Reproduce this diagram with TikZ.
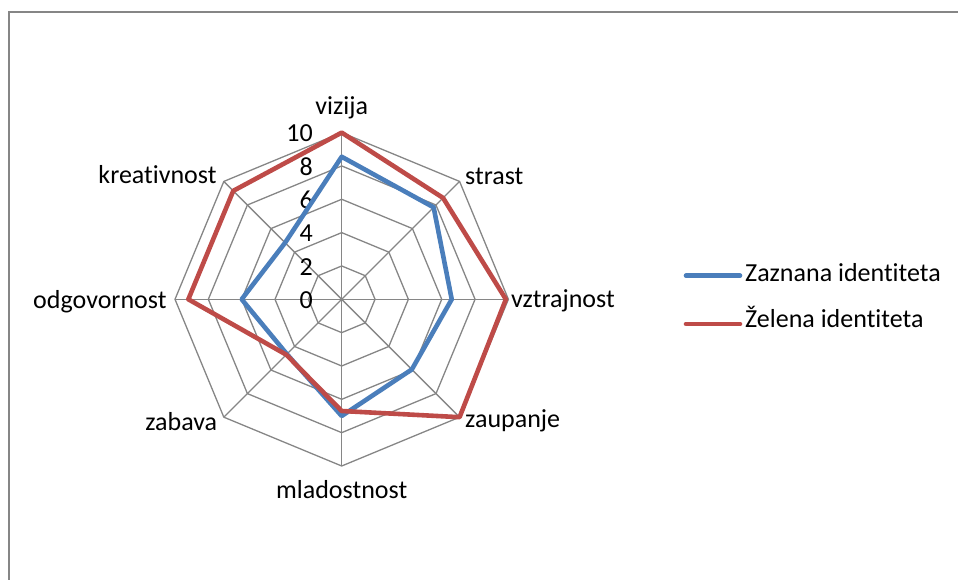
\documentclass[tikz,border=0pt]{standalone}
\usepackage{fontspec}
\setmainfont{Carlito}[Ligatures=NoCommon]
\definecolor{gridgray}{HTML}{868686}
\definecolor{seriesblue}{HTML}{4A7EBB}
\definecolor{seriesred}{HTML}{BE4B48}
\begin{document}
\begin{tikzpicture}[x=1pt,y=1pt,
  gridline/.style={draw=gridgray, line width=1.3pt},
  frameline/.style={draw=gridgray, line width=2pt},
  series/.style={line width=4.6pt, line join=round},
  lbl/.style={font=\fontsize{26}{30}\selectfont, inner sep=0pt, text=black},
  numlbl/.style={font=\fontsize{26}{30}\selectfont, inner sep=0pt, anchor=base east}]
  \useasboundingbox (0,0) rectangle (958,579);
  % outer frame (right and bottom edges lie outside the page)
  \draw[frameline] (8.5,-10) -- (8.5,567) -- (970,567);

  \def\u{16.67}
  \begin{scope}[shift={(341.7,279.7)}]
    \coordinate (c) at (0,0);
    % rings
    \foreach \k in {2,4,6,8,10}{
      \draw[gridline] (90:{\k*\u}) -- (45:{\k*\u}) -- (0:{\k*\u}) -- (-45:{\k*\u})
        -- (-90:{\k*\u}) -- (-135:{\k*\u}) -- (180:{\k*\u}) -- (135:{\k*\u}) -- cycle;
    }
    % spokes
    \foreach \a/\n in {90/vi,45/st,0/vz,-45/za,-90/ml,-135/zb,180/od,135/kr}{
      \coordinate (\n) at (\a:{10*\u});
      \draw[gridline] (c) -- (\n);
    }
    % scale numbers
    \foreach \k in {0,2,4,6,8,10}{
      \node[numlbl] (n\k) at (-28.7,{\k*\u-9.3}) {\k};
    }
    % Zaznana identiteta
    \draw[series, seriesblue] (90:{8.55*\u}) -- (45:{7.8*\u}) -- (0:{6.6*\u}) -- (-45:{5.95*\u})
      -- (-90:{7.0*\u}) -- (-135:{4.65*\u}) -- (180:{6.0*\u}) -- (135:{4.8*\u}) -- cycle;
    % Želena identiteta
    \draw[series, seriesred] (90:{10*\u}) -- (45:{8.6*\u}) -- (0:{9.85*\u}) -- (-45:{10*\u})
      -- (-90:{6.7*\u}) -- (-135:{4.7*\u}) -- (180:{9.2*\u}) -- (135:{9.2*\u}) -- cycle;
  \end{scope}

  % category labels
  \node[lbl, anchor=base] (lvi) at (341.7,464) {vizija};
  \node[lbl, anchor=base west] (lst) at (465,394) {strast};
  \node[lbl, anchor=base west] (lvz) at (511,272) {vztrajnost};
  \node[lbl, anchor=base west] (lza) at (465,152) {zaupanje};
  \node[lbl, anchor=base] (lml) at (341.7,81) {mladostnost};
  \node[lbl, anchor=base east] (lzb) at (217.3,148.3) {zabava};
  \node[lbl, anchor=base east] (lod) at (166.7,270.7) {odgovornost};
  \node[lbl, anchor=base east] (lkr) at (216.7,395) {kreativnost};

  % legend
  \coordinate (b1) at (686,303.3);
  \coordinate (b2) at (740,303.3);
  \coordinate (r1) at (686,255);
  \coordinate (r2) at (740,255);
  \draw[series, seriesblue, line cap=round] (b1) -- (b2);
  \draw[series, seriesred, line cap=round] (r1) -- (r2);
  \node[lbl, anchor=base west] (lgb) at (745,297.3) {Zaznana identiteta};
  \node[lbl, anchor=base west] (lgr) at (745,251.7) {Želena identiteta};
\end{tikzpicture}
\end{document}
